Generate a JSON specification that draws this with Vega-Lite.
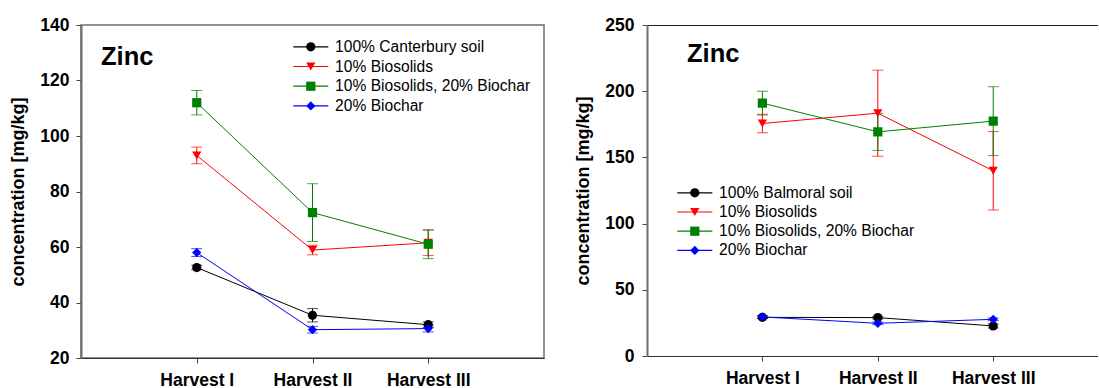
{
  "$schema": "https://vega.github.io/schema/vega-lite/v6.json",
  "padding": {"left": 9, "top": 15, "right": 0, "bottom": 0},
  "spacing": 29,
  "datasets": {
    "canterbury": [
      {"treatment": "100% Canterbury soil", "harvest": 1, "mean": 52.6, "err": 0.8},
      {"treatment": "100% Canterbury soil", "harvest": 2, "mean": 35.4, "err": 2.4},
      {"treatment": "100% Canterbury soil", "harvest": 3, "mean": 32.0, "err": 1.0},
      {"treatment": "10% Biosolids", "harvest": 1, "mean": 93.0, "err": 3.0},
      {"treatment": "10% Biosolids", "harvest": 2, "mean": 58.9, "err": 1.7},
      {"treatment": "10% Biosolids", "harvest": 3, "mean": 61.5, "err": 4.6},
      {"treatment": "10% Biosolids, 20% Biochar", "harvest": 1, "mean": 112.0, "err": 4.4},
      {"treatment": "10% Biosolids, 20% Biochar", "harvest": 2, "mean": 72.4, "err": 10.4},
      {"treatment": "10% Biosolids, 20% Biochar", "harvest": 3, "mean": 61.0, "err": 5.2},
      {"treatment": "20% Biochar", "harvest": 1, "mean": 58.0, "err": 1.4},
      {"treatment": "20% Biochar", "harvest": 2, "mean": 30.2, "err": 1.2},
      {"treatment": "20% Biochar", "harvest": 3, "mean": 30.6, "err": 1.2}
    ],
    "balmoral": [
      {"treatment": "100% Balmoral soil", "harvest": 1, "mean": 29.2, "err": 1.0},
      {"treatment": "100% Balmoral soil", "harvest": 2, "mean": 29.0, "err": 1.0},
      {"treatment": "100% Balmoral soil", "harvest": 3, "mean": 22.7, "err": 1.5},
      {"treatment": "10% Biosolids", "harvest": 1, "mean": 175.6, "err": 7.0},
      {"treatment": "10% Biosolids", "harvest": 2, "mean": 183.4, "err": 32.5},
      {"treatment": "10% Biosolids", "harvest": 3, "mean": 139.9, "err": 29.6},
      {"treatment": "10% Biosolids, 20% Biochar", "harvest": 1, "mean": 191.0, "err": 9.0},
      {"treatment": "10% Biosolids, 20% Biochar", "harvest": 2, "mean": 169.3, "err": 14.0},
      {"treatment": "10% Biosolids, 20% Biochar", "harvest": 3, "mean": 177.4, "err": 26.0},
      {"treatment": "20% Biochar", "harvest": 1, "mean": 29.5, "err": 1.0},
      {"treatment": "20% Biochar", "harvest": 2, "mean": 24.7, "err": 1.0},
      {"treatment": "20% Biochar", "harvest": 3, "mean": 27.7, "err": 1.0}
    ]
  },
  "resolve": {"scale": {"color": "independent", "shape": "independent"}, "legend": {"color": "independent", "shape": "independent"}},
  "hconcat": [
    {
      "width": 463,
      "height": 333,
      "view": {"stroke": "#6e6e6e", "strokeWidth": 1.5},
      "title": {"text": "Zinc", "anchor": "start", "frame": "group", "orient": "top", "offset": -74, "baseline": "alphabetic", "dx": 20},
      "data": {"name": "canterbury"},
      "resolve": {"legend": {"color": "independent", "shape": "independent"}},
      "encoding": {
        "x": {"field": "harvest", "type": "quantitative", "scale": {"domain": [0, 4], "nice": false},
              "axis": {"values": [1, 2, 3], "labelExpr": "['', 'Harvest I', 'Harvest II', 'Harvest III'][datum.value]", "title": null, "domainColor": "#333", "domainWidth": 1.2}}
      },
      "layer": [
        {
          "mark": {"type": "errorbar", "ticks": {"size": 11}, "thickness": 1},
          "encoding": {
            "y": {"field": "mean", "type": "quantitative", "scale": {"domain": [20, 140], "nice": false},
                  "axis": {"values": [20, 40, 60, 80, 100, 120, 140], "title": "concentration [mg/kg]", "titlePadding": 12, "labelPadding": 7, "domainColor": "#6e6e6e", "domainWidth": 2}},
            "yError": {"field": "err"},
            "color": {"field": "treatment", "type": "nominal",
                      "scale": {"domain": ["100% Canterbury soil", "10% Biosolids", "10% Biosolids, 20% Biochar", "20% Biochar"], "range": ["#000000", "#ff0000", "#008000", "#0000ff"]},
                      "legend": null}
          }
        },
        {
          "mark": {"type": "line", "strokeWidth": 1},
          "encoding": {
            "y": {"field": "mean", "type": "quantitative"},
            "color": {"field": "treatment", "type": "nominal",
                      "legend": {"orient": "none", "legendX": 222, "legendY": 14, "title": null, "padding": 0,
                                 "labelFont": "Liberation Sans", "labelFontSize": 15.6, "labelOpacity": 0, "labelOffset": 16.5, "labelLimit": 400, "rowPadding": 2.7,
                                 "symbolSize": 85, "symbolStrokeWidth": 1.2, "symbolType": "M-3.8,0H3.8"}}
          }
        },
        {
          "mark": {"type": "point", "filled": true, "size": 85, "opacity": 1},
          "encoding": {
            "y": {"field": "mean", "type": "quantitative"},
            "color": {"field": "treatment", "type": "nominal",
                      "legend": {"orient": "none", "legendX": 222, "legendY": 14, "title": null, "padding": 0,
                                 "labelFont": "Liberation Sans", "labelFontSize": 15.6, "labelColor": "#000", "labelOffset": 16.5, "labelLimit": 400, "rowPadding": 2.7,
                                 "symbolSize": 85, "symbolOpacity": 1}},
            "shape": {"field": "treatment", "type": "nominal",
                      "scale": {"domain": ["100% Canterbury soil", "10% Biosolids", "10% Biosolids, 20% Biochar", "20% Biochar"], "range": ["circle", "triangle-down", "square", "diamond"]},
                      "legend": {"orient": "none", "legendX": 222, "legendY": 14, "title": null, "padding": 0,
                                 "labelFont": "Liberation Sans", "labelFontSize": 15.6, "labelColor": "#000", "labelOffset": 16.5, "labelLimit": 400, "rowPadding": 2.7,
                                 "symbolSize": 85, "symbolOpacity": 1}}
          }
        }
      ]
    },
    {
      "width": 451,
      "height": 331,
      "view": {"stroke": null},
      "title": {"text": "Zinc", "anchor": "start", "frame": "group", "orient": "top", "offset": -71, "baseline": "alphabetic", "dx": 40},
      "data": {"name": "balmoral"},
      "resolve": {"axis": {"x": "independent"}, "legend": {"color": "independent", "shape": "independent"}},
      "layer": [
        {
          "mark": {"type": "errorbar", "ticks": {"size": 11}, "thickness": 1},
          "encoding": {
            "x": {"field": "harvest", "type": "quantitative", "scale": {"domain": [0, 3.908], "nice": false},
                  "axis": {"values": [1, 2, 3], "labelExpr": "['', 'Harvest I', 'Harvest II', 'Harvest III'][datum.value]", "title": null, "domainColor": "#333", "domainWidth": 1.2}},
            "y": {"field": "mean", "type": "quantitative", "scale": {"domain": [0, 250], "nice": false},
                  "axis": {"values": [0, 50, 100, 150, 200, 250], "title": "concentration [mg/kg]", "titlePadding": 12, "labelPadding": 8, "domainColor": "#6e6e6e", "domainWidth": 2}},
            "yError": {"field": "err"},
            "color": {"field": "treatment", "type": "nominal",
                      "scale": {"domain": ["100% Balmoral soil", "10% Biosolids", "10% Biosolids, 20% Biochar", "20% Biochar"], "range": ["#000000", "#ff0000", "#008000", "#0000ff"]},
                      "legend": null}
          }
        },
        {
          "mark": {"type": "line", "strokeWidth": 1},
          "encoding": {
            "x": {"field": "harvest", "type": "quantitative",
                  "axis": {"orient": "top", "values": [], "labels": false, "ticks": false, "title": null, "domainColor": "#222", "domainWidth": 1.2}},
            "y": {"field": "mean", "type": "quantitative"},
            "color": {"field": "treatment", "type": "nominal",
                      "legend": {"orient": "none", "legendX": 40, "legendY": 160, "title": null, "padding": 0,
                                 "labelFont": "Liberation Sans", "labelFontSize": 15.6, "labelOpacity": 0, "labelOffset": 16.5, "labelLimit": 400, "rowPadding": 2.2,
                                 "symbolSize": 85, "symbolStrokeWidth": 1.2, "symbolType": "M-3.8,0H3.8"}}
          }
        },
        {
          "mark": {"type": "point", "filled": true, "size": 85, "opacity": 1},
          "encoding": {
            "x": {"field": "harvest", "type": "quantitative", "axis": null},
            "y": {"field": "mean", "type": "quantitative"},
            "color": {"field": "treatment", "type": "nominal",
                      "legend": {"orient": "none", "legendX": 40, "legendY": 160, "title": null, "padding": 0,
                                 "labelFont": "Liberation Sans", "labelFontSize": 15.6, "labelColor": "#000", "labelOffset": 16.5, "labelLimit": 400, "rowPadding": 2.2,
                                 "symbolSize": 85, "symbolOpacity": 1}},
            "shape": {"field": "treatment", "type": "nominal",
                      "scale": {"domain": ["100% Balmoral soil", "10% Biosolids", "10% Biosolids, 20% Biochar", "20% Biochar"], "range": ["circle", "triangle-down", "square", "diamond"]},
                      "legend": {"orient": "none", "legendX": 40, "legendY": 160, "title": null, "padding": 0,
                                 "labelFont": "Liberation Sans", "labelFontSize": 15.6, "labelColor": "#000", "labelOffset": 16.5, "labelLimit": 400, "rowPadding": 2.2,
                                 "symbolSize": 85, "symbolOpacity": 1}}
          }
        }
      ]
    }
  ],
  "config": {
    "font": "Liberation Sans",
    "axis": {"labelFont": "Liberation Sans", "labelFontWeight": "bold", "labelFontSize": 17.5, "labelColor": "#000",
             "titleFont": "Liberation Sans", "titleFontWeight": "bold", "titleFontSize": 18, "titleColor": "#000",
             "grid": false, "tickSize": 5, "tickColor": "#444", "labelPadding": 8},
    "title": {"font": "Liberation Sans", "fontWeight": "bold", "fontSize": 25.5, "color": "#000"}
  }
}
